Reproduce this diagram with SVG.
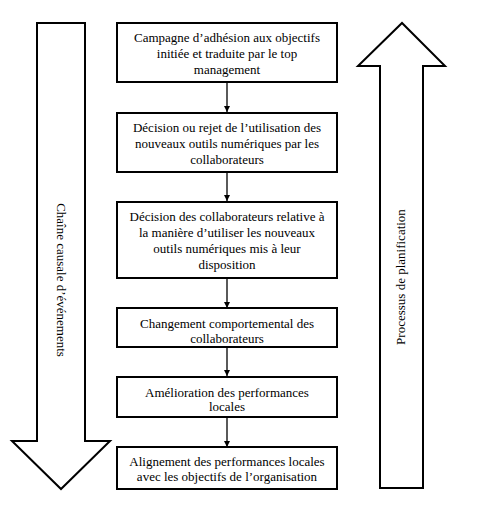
<svg xmlns="http://www.w3.org/2000/svg" width="500" height="525" viewBox="0 0 500 525">
<defs>
<marker id="ah" viewBox="0 0 10 10" refX="10" refY="5" markerWidth="6" markerHeight="6" orient="auto" markerUnits="userSpaceOnUse">
<path d="M0,0 L10,5 L0,10 z" fill="#000"/>
</marker>
</defs>
<style>
.box{fill:#fff;stroke:#000;stroke-width:2}
.big{fill:#fff;stroke:#000;stroke-width:2;stroke-linejoin:miter}
.t{font-family:"Liberation Serif","Times New Roman",serif;font-size:13px;fill:#000;text-anchor:middle}
.c{stroke:#000;stroke-width:1.3;fill:none}
</style>
<rect width="500" height="525" fill="#fff"/>
<g id="arrow-down">
<path class="big" d="M37,23 L85,23 L85,441 L110,441 L61,489 L12,441 L37,441 Z"/>
<text class="t" transform="translate(57,280) rotate(90)">Chaîne causale d’événements</text>
</g>
<g id="arrow-up">
<path class="big" d="M380,488 L423,488 L423,66 L445,66 L402,23 L358,66 L380,66 Z"/>
<text class="t" transform="translate(405,277) rotate(-90)">Processus de planification</text>
</g>
<g id="connectors">
<line class="c" x1="227" y1="82" x2="227" y2="112" marker-end="url(#ah)"/>
<line class="c" x1="227" y1="172" x2="227" y2="201" marker-end="url(#ah)"/>
<line class="c" x1="227" y1="278" x2="227" y2="308" marker-end="url(#ah)"/>
<line class="c" x1="227" y1="347" x2="227" y2="376" marker-end="url(#ah)"/>
<line class="c" x1="227" y1="417" x2="227" y2="447" marker-end="url(#ah)"/>
</g>
<g id="n1">
<rect class="box" x="117" y="23" width="220" height="59"/>
<text class="t" x="227" y="42">Campagne d’adhésion aux objectifs</text>
<text class="t" x="227" y="58">initiée et traduite par le top</text>
<text class="t" x="227" y="74">management</text>
</g>
<g id="n2">
<rect class="box" x="117" y="113" width="220" height="59"/>
<text class="t" x="227" y="132">Décision ou rejet de l’utilisation des</text>
<text class="t" x="227" y="148">nouveaux outils numériques par les</text>
<text class="t" x="227" y="164">collaborateurs</text>
</g>
<g id="n3">
<rect class="box" x="117" y="202" width="220" height="76"/>
<text class="t" x="227" y="221">Décision des collaborateurs relative à</text>
<text class="t" x="227" y="237">la manière d’utiliser les nouveaux</text>
<text class="t" x="227" y="253">outils numériques mis à leur</text>
<text class="t" x="227" y="269">disposition</text>
</g>
<g id="n4">
<rect class="box" x="117" y="308" width="220" height="39"/>
<text class="t" x="227" y="328">Changement comportemental des</text>
<text class="t" x="227" y="343">collaborateurs</text>
</g>
<g id="n5">
<rect class="box" x="117" y="377" width="220" height="40"/>
<text class="t" x="227" y="397">Amélioration des performances</text>
<text class="t" x="227" y="411">locales</text>
</g>
<g id="n6">
<rect class="box" x="117" y="447" width="220" height="42"/>
<text class="t" x="227" y="466">Alignement des performances locales</text>
<text class="t" x="227" y="481">avec les objectifs de l’organisation</text>
</g>
</svg>
